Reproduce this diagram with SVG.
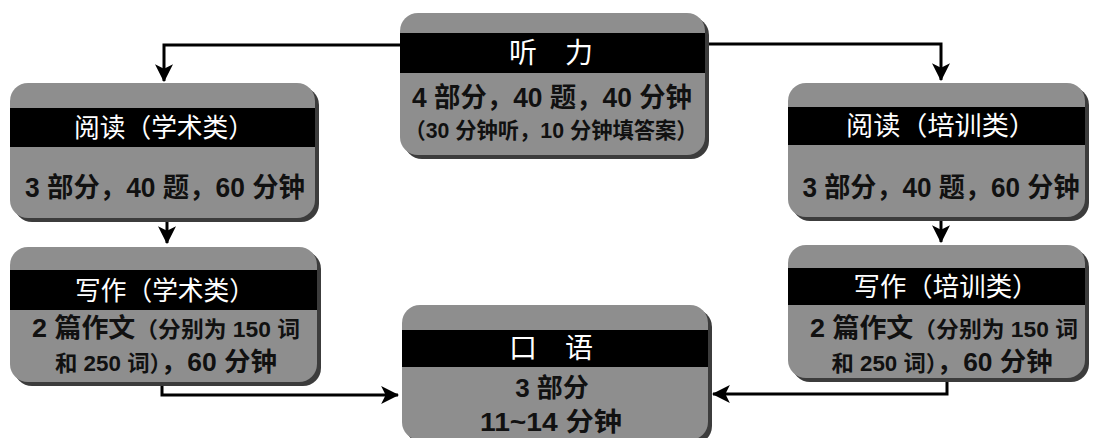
<svg xmlns="http://www.w3.org/2000/svg" width="1095" height="438" viewBox="0 0 1095 438">
<style>
.shadow{fill:#3c3c3c}
.box{fill:#8e8e8e}
.band{fill:#000}
.title{font-family:"Noto Sans CJK SC","Noto Sans",sans-serif;font-weight:400;fill:#fff;text-anchor:middle}
.body{font-family:"Liberation Sans","Noto Sans CJK SC",sans-serif;font-weight:700;fill:#111;text-anchor:middle}
.conn{fill:none;stroke:#000;stroke-width:3}
</style>
<defs>
<marker id="arr" markerUnits="userSpaceOnUse" markerWidth="18" markerHeight="18" viewBox="0 0 16 16" refX="15" refY="8" orient="auto">
<path d="M0,0 L16,8 L0,16 L4,8 Z" fill="#000"/>
</marker>
</defs>
<rect width="1095" height="438" fill="#fff"/>

<g id="connectors">
<path class="conn" d="M400,45 H164 V81" marker-end="url(#arr)"/>
<path class="conn" d="M705,44 H941 V80" marker-end="url(#arr)"/>
<path class="conn" d="M167,220 V243" marker-end="url(#arr)"/>
<path class="conn" d="M941,219 V242" marker-end="url(#arr)"/>
<path class="conn" d="M162,382 V395 H398" marker-end="url(#arr)"/>
<path class="conn" d="M947,378 V394 H713" marker-end="url(#arr)"/>
</g>

<g id="listening">
<rect class="shadow" x="404" y="17" width="305" height="142" rx="18"/>
<rect class="box" x="400" y="13" width="305" height="142" rx="18"/>
<rect class="band" x="400" y="33" width="305" height="40"/>
<text class="title" x="551" y="63" font-size="28">听　力</text>
<text class="body" x="552" y="107" font-size="27" textLength="280" lengthAdjust="spacingAndGlyphs">4 部分，40 题，40 分钟</text>
<text class="body" x="551" y="138" font-size="22" textLength="293" lengthAdjust="spacingAndGlyphs">（30 分钟听，10 分钟填答案）</text>
</g>

<g id="reading-academic">
<rect class="shadow" x="14" y="87" width="305" height="135" rx="18"/>
<rect class="box" x="10" y="83" width="305" height="135" rx="18"/>
<rect class="band" x="10" y="108" width="305" height="39"/>
<text class="title" x="164" y="137" font-size="26" textLength="180" lengthAdjust="spacingAndGlyphs">阅读（学术类）</text>
<text class="body" x="165" y="197" font-size="27" textLength="280" lengthAdjust="spacingAndGlyphs">3 部分，40 题，60 分钟</text>
</g>

<g id="reading-general">
<rect class="shadow" x="792" y="87" width="297" height="134" rx="18"/>
<rect class="box" x="788" y="83" width="297" height="134" rx="18"/>
<rect class="band" x="788" y="107" width="297" height="38"/>
<text class="title" x="941" y="135" font-size="26" textLength="190" lengthAdjust="spacingAndGlyphs">阅读（培训类）</text>
<text class="body" x="941" y="197" font-size="27" textLength="277" lengthAdjust="spacingAndGlyphs">3 部分，40 题，60 分钟</text>
</g>

<g id="writing-academic">
<rect class="shadow" x="14" y="251" width="307" height="135" rx="18"/>
<rect class="box" x="10" y="247" width="307" height="135" rx="18"/>
<rect class="band" x="10" y="270" width="307" height="40"/>
<text class="title" x="165" y="300" font-size="26" textLength="180" lengthAdjust="spacingAndGlyphs">写作（学术类）</text>
<text class="body" x="166" y="337" font-size="22" textLength="268" lengthAdjust="spacingAndGlyphs"><tspan font-size="26">2 篇作文</tspan>（分别为 150 词</text>
<text class="body" x="166" y="371" font-size="22" textLength="222" lengthAdjust="spacingAndGlyphs">和 250 词）<tspan font-size="26">，60 分钟</tspan></text>
</g>

<g id="writing-general">
<rect class="shadow" x="792" y="249" width="297" height="133" rx="18"/>
<rect class="box" x="788" y="245" width="297" height="133" rx="18"/>
<rect class="band" x="788" y="268" width="297" height="37"/>
<text class="title" x="946" y="296" font-size="26" textLength="185" lengthAdjust="spacingAndGlyphs">写作（培训类）</text>
<text class="body" x="944" y="337" font-size="22" textLength="268" lengthAdjust="spacingAndGlyphs"><tspan font-size="26">2 篇作文</tspan>（分别为 150 词</text>
<text class="body" x="942" y="371" font-size="22" textLength="221" lengthAdjust="spacingAndGlyphs">和 250 词）<tspan font-size="26">，60 分钟</tspan></text>
</g>

<g id="speaking">
<rect class="shadow" x="406" y="309" width="306" height="135" rx="18"/>
<rect class="box" x="402" y="305" width="306" height="135" rx="18"/>
<rect class="band" x="402" y="330" width="306" height="37"/>
<text class="title" x="551" y="358" font-size="28">口　语</text>
<text class="body" x="552" y="397" font-size="26">3 部分</text>
<text class="body" x="551" y="431" font-size="26" textLength="142" lengthAdjust="spacingAndGlyphs">11~14 分钟</text>
</g>
</svg>
